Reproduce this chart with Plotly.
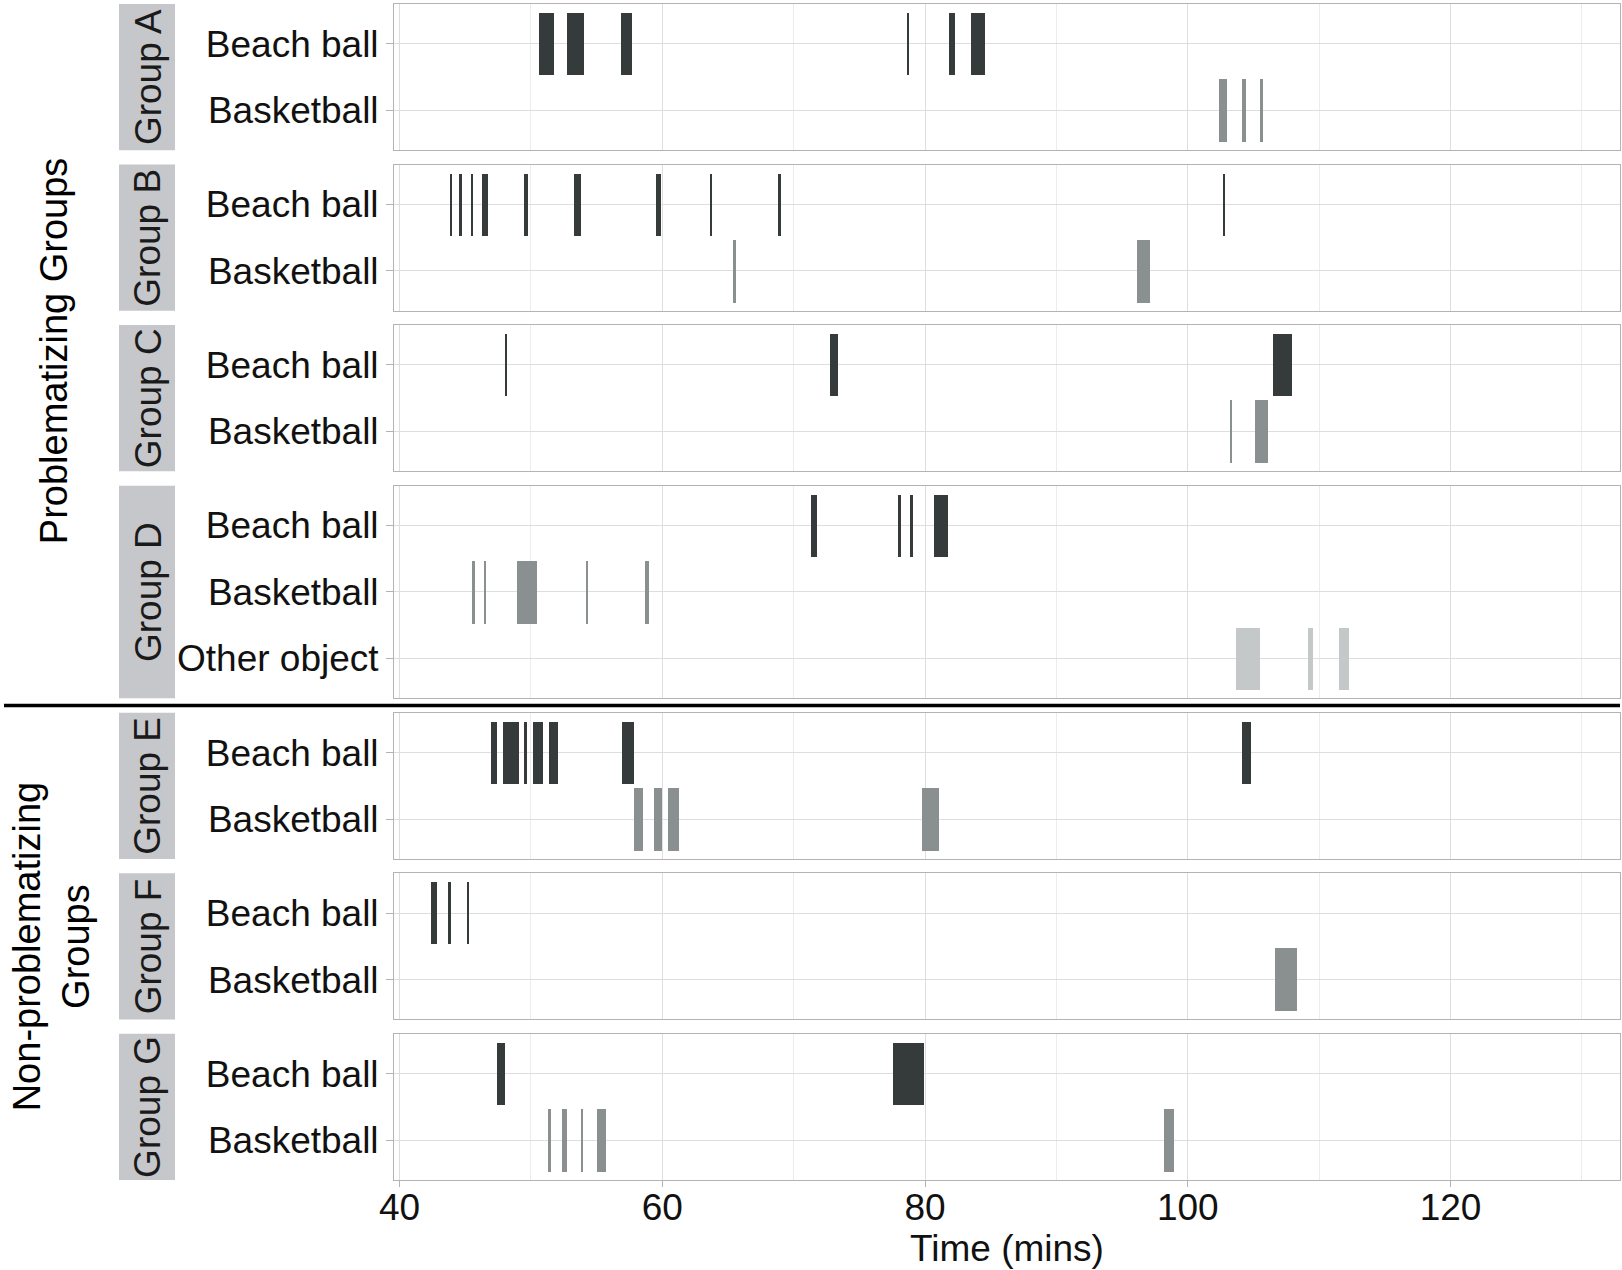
import plotly.graph_objects as go
from plotly.subplots import make_subplots

# intervals (start, end) in minutes
groups = ["Group A", "Group B", "Group C", "Group D", "Group E", "Group F", "Group G"]

a_beach = [(50.6, 51.75), (52.75, 54.05), (56.85, 57.7), (78.65, 78.8), (81.8, 82.3), (83.5, 84.6)]
a_basket = [(102.4, 102.95), (104.1, 104.4), (105.5, 105.75)]

b_beach = [(43.85, 43.95), (44.6, 44.75), (45.45, 45.6), (46.25, 46.75), (49.45, 49.75),
           (53.3, 53.85), (59.5, 59.9), (63.6, 63.8), (68.85, 69.0), (102.75, 102.85)]
b_basket = [(65.4, 65.6), (96.15, 97.15)]

c_beach = [(48.0, 48.2), (72.8, 73.4), (106.45, 107.9)]
c_basket = [(103.2, 103.4), (105.15, 106.1)]

d_beach = [(71.3, 71.75), (77.95, 78.2), (78.85, 79.1), (80.65, 81.75)]
d_basket = [(45.5, 45.75), (46.4, 46.6), (48.95, 50.45), (54.2, 54.35), (58.65, 59.0)]
d_other = [(103.65, 105.5), (109.15, 109.5), (111.5, 112.3)]

e_beach = [(47.0, 47.4), (47.9, 49.1), (49.45, 49.7), (50.15, 50.95), (51.35, 52.1),
           (56.9, 57.85), (104.1, 104.8)]
e_basket = [(57.85, 58.55), (59.35, 59.95), (60.45, 61.3), (79.75, 81.05)]

f_beach = [(42.4, 42.85), (43.7, 43.95), (45.2, 45.3)]
f_basket = [(106.65, 108.3)]

g_beach = [(47.4, 48.0), (77.6, 79.9)]
g_basket = [(51.3, 51.5), (52.4, 52.75), (53.85, 54.0), (55.05, 55.7), (98.2, 98.95)]

panels = [
    [("Beach ball", a_beach), ("Basketball", a_basket)],
    [("Beach ball", b_beach), ("Basketball", b_basket)],
    [("Beach ball", c_beach), ("Basketball", c_basket)],
    [("Beach ball", d_beach), ("Basketball", d_basket), ("Other object", d_other)],
    [("Beach ball", e_beach), ("Basketball", e_basket)],
    [("Beach ball", f_beach), ("Basketball", f_basket)],
    [("Beach ball", g_beach), ("Basketball", g_basket)],
]

colors = {"Beach ball": "#353a3a", "Basketball": "#8a9090", "Other object": "#c4c8c8"}

W, H = 1622, 1270
ML, MR, MT, MB = 394, 2, 4, 90
plot_w = W - ML - MR
plot_h = H - MT - MB

heights = [len(p) + 0.2 for p in panels]
fig = make_subplots(rows=7, cols=1, shared_xaxes=True,
                    vertical_spacing=14.3 / plot_h, row_heights=heights)

font = "Liberation Sans, Arial, sans-serif"
fs = 37

for i, panel in enumerate(panels):
    r = i + 1
    for k, (obj, iv) in enumerate(panel):
        starts = [s for s, e in iv]
        durs = [e - s for s, e in iv]
        fig.add_trace(go.Bar(y=[k + 1] * len(iv), x=durs, base=starts, orientation="h",
                             width=0.94, marker=dict(color=colors[obj], line_width=0),
                             showlegend=False, hoverinfo="skip"), row=r, col=1)
    n = len(panel)
    fig.update_yaxes(range=[n + 0.6, 0.4], tickvals=list(range(1, n + 1)),
                     ticktext=[o for o, _ in panel], row=r, col=1)

    # strip on the left
    yref = "y domain" if r == 1 else "y%d domain" % r
    fig.add_shape(type="rect", xref="paper", yref=yref,
                  x0=(119 - ML) / plot_w, x1=(175 - ML) / plot_w, y0=0, y1=1,
                  fillcolor="#c6c7cb", line_width=0, layer="below")
    fig.add_annotation(text=groups[i], xref="paper", yref=yref,
                       x=(148 - ML) / plot_w, y=0.5, textangle=-90, showarrow=False,
                       xanchor="center", yanchor="middle",
                       font=dict(size=fs, color="#1a1a1a", family=font))

fig.update_xaxes(range=[39.58, 132.9], tickvals=[40, 60, 80, 100, 120],
                 showgrid=True, gridcolor="#dedede", gridwidth=1,
                 minor=dict(dtick=10, tick0=0, showgrid=True, gridcolor="#ececec", gridwidth=1),
                 showline=True, mirror=True, linecolor="#b3b3b3", linewidth=1,
                 ticks="", zeroline=False)
fig.update_xaxes(ticks="outside", ticklen=6, tickcolor="#b3b3b3", ticklabelstandoff=-11,
                 tickfont=dict(size=fs, color="#111111", family=font),
                 title=dict(text="Time (mins)", font=dict(size=fs, color="#111111", family=font),
                            standoff=3),
                 row=7, col=1)
fig.update_yaxes(showgrid=True, gridcolor="#dedede", gridwidth=1, zeroline=False,
                 showline=True, mirror=True, linecolor="#b3b3b3", linewidth=1,
                 ticks="outside", ticklen=7, tickcolor="#b3b3b3",
                 tickfont=dict(size=fs, color="#111111", family=font))

# outer group labels and separator
d_bottom = fig.layout.yaxis4.domain[0]
e_top = fig.layout.yaxis5.domain[1]
top_mid = (fig.layout.yaxis1.domain[1] + d_bottom) / 2
bot_mid = (e_top + fig.layout.yaxis7.domain[0]) / 2

fig.add_annotation(text="Problematizing Groups", xref="paper", yref="paper",
                   x=(54 - ML) / plot_w, y=top_mid, textangle=-90, showarrow=False,
                   xanchor="center", yanchor="middle",
                   font=dict(size=38, color="#000000", family=font))
fig.add_annotation(text="Non-problematizing<br>Groups", xref="paper", yref="paper",
                   x=(51 - ML) / plot_w, y=bot_mid, textangle=-90, showarrow=False,
                   xanchor="center", yanchor="middle",
                   align="center", font=dict(size=38, color="#000000", family=font))
sep = (d_bottom + e_top) / 2
fig.add_shape(type="line", xref="paper", yref="paper",
              x0=(4 - ML) / plot_w, x1=1.0, y0=sep, y1=sep,
              line=dict(color="#000000", width=3.5))

fig.update_layout(width=W, height=H, autosize=False,
                  margin=dict(l=ML, r=MR, t=MT, b=MB),
                  plot_bgcolor="white", paper_bgcolor="white",
                  barmode="overlay", bargap=0)

fig.write_html("out.html", config={"displayModeBar": False},
               post_script="document.body.style.margin='0';")
